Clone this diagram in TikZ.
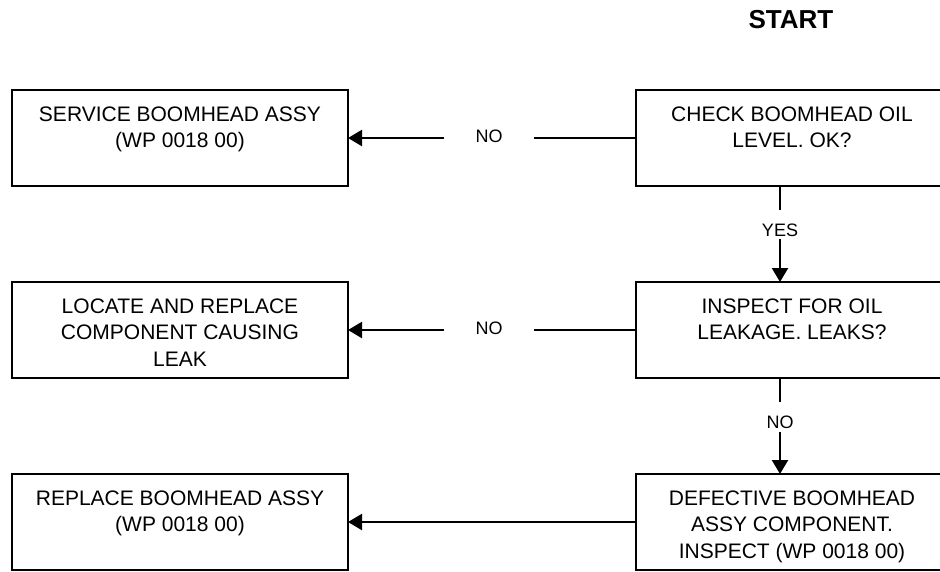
\documentclass[tikz,border=0pt]{standalone}
\usepackage{fontspec}
\setmainfont{Liberation Sans}
\usetikzlibrary{arrows.meta,calc}
\begin{document}
\begin{tikzpicture}[x=1pt,y=-1pt,
  box/.style={draw,line width=2pt,minimum width=336pt,minimum height=96pt,inner sep=0pt,outer sep=0pt,anchor=north west},
  rbox/.style={box,minimum width=312pt},
  boxtext/.style={anchor=north,inner sep=0pt,align=center,font=\fontsize{21}{26.5}\selectfont},
  conn/.style={line width=2.2pt},
  flow/.style={conn,-{Triangle[length=14pt,width=16pt]}},
  lbl/.style={inner sep=0pt,font=\fontsize{18}{20}\selectfont},
]
\useasboundingbox (0,0) rectangle (940,571);

% heading
\node[inner sep=0pt,font=\bfseries\fontsize{26}{28}\selectfont] (start) at (791,20) {START};

% boxes: left column (actions), right column (checks)
\node[box]  (l1) at (12,90)  {};
\node[rbox] (r1) at (636,90) {};
\node[box]  (l2) at (12,282)  {};
\node[rbox] (r2) at (636,282) {};
\node[box]  (l3) at (12,474)  {};
\node[rbox] (r3) at (636,474) {};

% box texts, set from the top of each box
\node[boxtext] (tl1) at ($(l1.north)+(0,16.5)$) {SERVICE BOOMHEAD ASSY\\(WP 0018 00)};
\node[boxtext] (tr1) at ($(r1.north)+(0,16.5)$) {CHECK BOOMHEAD OIL\\LEVEL. OK?};
\node[boxtext] (tl2) at ($(l2.north)+(0,16.5)$) {LOCATE AND REPLACE\\COMPONENT CAUSING\\LEAK};
\node[boxtext] (tr2) at ($(r2.north)+(0,16.5)$) {INSPECT FOR OIL\\LEAKAGE. LEAKS?};
\node[boxtext] (tl3) at ($(l3.north)+(0,16.5)$) {REPLACE BOOMHEAD ASSY\\(WP 0018 00)};
\node[boxtext] (tr3) at ($(r3.north)+(0,16.5)$) {DEFECTIVE BOOMHEAD\\ASSY COMPONENT.\\INSPECT (WP 0018 00)};

% vertical flow, right column
\coordinate (v1a) at (780,210);
\coordinate (v1b) at (780,239);
\draw[conn] (r1.south -| v1a) -- (v1a);
\draw[flow] (v1b) -- (r2.north -| v1b);
\node[lbl] (yes) at (780,230) {YES};

\coordinate (v2a) at (780,402);
\coordinate (v2b) at (780,432);
\draw[conn] (r2.south -| v2a) -- (v2a);
\draw[flow] (v2b) -- (r3.north -| v2b);
\node[lbl] (no2) at (780,422) {NO};

% horizontal flow, right to left
\coordinate (h1a) at (534,138);
\coordinate (h1b) at (444,138);
\draw[conn] (r1.west) -- (h1a);
\draw[flow] (h1b) -- (l1.east);
\node[lbl] (no1) at (489,136) {NO};

\coordinate (h2a) at (534,330);
\coordinate (h2b) at (444,330);
\draw[conn] (r2.west) -- (h2a);
\draw[flow] (h2b) -- (l2.east);
\node[lbl] (no3) at (489,328) {NO};

\draw[flow] (r3.west) -- (l3.east);
\end{tikzpicture}
\end{document}
